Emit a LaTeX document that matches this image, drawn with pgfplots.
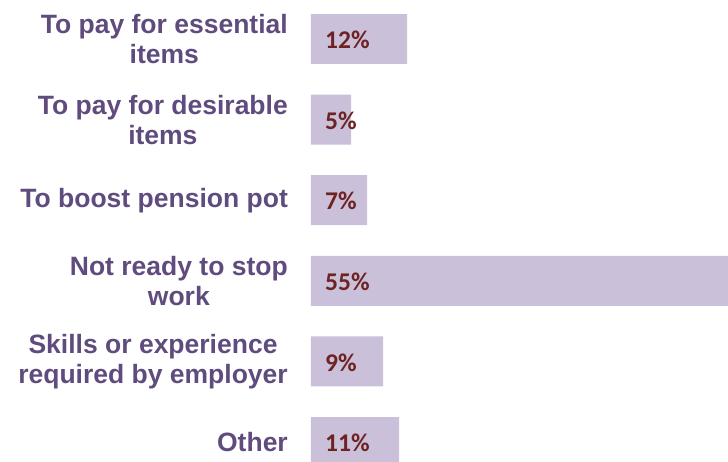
\documentclass[border=0pt]{standalone}
\usepackage{pgfplots}
\pgfplotsset{compat=1.18}
\usepackage{fontspec}
\setmainfont{Liberation Sans}
\newfontfamily\valfont{Carlito}
\definecolor{barc}{RGB}{203,192,218}
\definecolor{labc}{RGB}{95,75,125}
\definecolor{valc}{RGB}{110,35,35}
\begin{document}
\begin{tikzpicture}[x=1pt,y=1pt]
\useasboundingbox (0,0) rectangle (728,462);
\begin{axis}[
  at={(311pt,0pt)}, anchor=south west,
  scale only axis, width=417pt, height=462pt,
  xmin=0, xmax=52.1,
  ymin=-0.484, ymax=5.248, y dir=reverse,
  axis line style={draw=none},
  major tick style={draw=none},
  xtick=\empty,
  ytick={0,1,2,3,4,5},
  yticklabels={{To pay for essential\\items},{To pay for desirable\\items},{To boost pension pot},{Not ready to stop\\work},{Skills or experience\\required by employer},{Other}},
  yticklabel style={font=\bfseries\fontsize{26.5}{30}\selectfont, text=labc, align=center, inner sep=0pt, xshift=-23pt},
]
\addplot[xbar, fill=barc, draw=none, bar width=0.62] coordinates {(12,0) (5,1) (7,2) (55,3) (9,4) (11,5)};
\addplot[only marks, mark size=0pt, mark options={draw=none,fill=none},
  nodes near coords, point meta=explicit symbolic,
  nodes near coords style={anchor=west, inner sep=0pt, xshift=14pt, yshift=-1pt, text=valc, font=\valfont\bfseries\fontsize{25.5}{30}\selectfont}]
  coordinates {(0,0) [12\%] (0,1) [5\%] (0,2) [7\%] (0,3) [55\%] (0,4) [9\%] (0,5) [11\%]};
\end{axis}
\end{tikzpicture}
\end{document}
